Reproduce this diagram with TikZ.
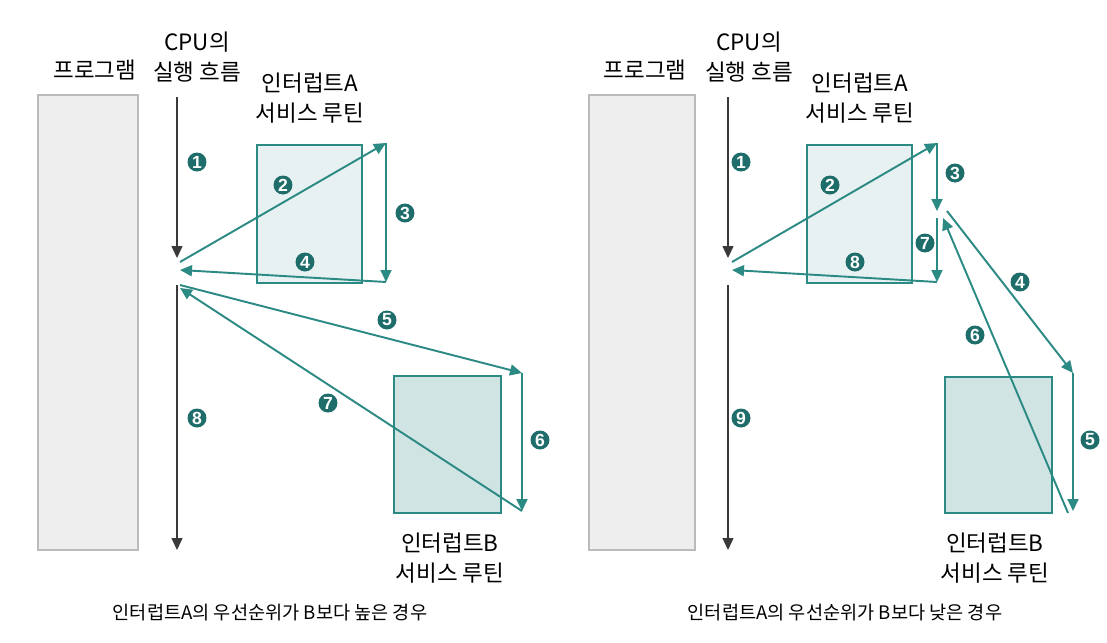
\documentclass[tikz,border=0pt]{standalone}
\usepackage{fontspec}
\setmainfont{Noto Sans CJK KR}
\newfontfamily\numfont{Liberation Sans}
\usetikzlibrary{arrows.meta}
\definecolor{tealline}{HTML}{2C8A84}
\definecolor{numteal}{HTML}{1E6D6B}
\definecolor{flowgray}{HTML}{3A3A3A}
\definecolor{progfill}{HTML}{EEEEEE}
\definecolor{progline}{HTML}{BBBBBB}
\definecolor{afill}{HTML}{E7F1F1}
\definecolor{bfill}{HTML}{D0E4E3}

\begin{document}
\begin{tikzpicture}[x=0.02cm,y=-0.02cm,
  prog/.style={draw=progline,fill=progfill,line width=0.8pt},
  isra/.style={draw=tealline,fill=afill,line width=1pt},
  isrb/.style={draw=tealline,fill=bfill,line width=1pt},
  flow/.style={draw=flowgray,line width=0.8pt,-{Triangle[length=2.4mm,width=2.2mm]}},
  jump/.style={draw=tealline,line width=1.1pt,-{Triangle[length=2.4mm,width=2.2mm]}},
  num/.style={circle,fill=numteal,text=white,minimum size=3.8mm,inner sep=0pt,font=\numfont\bfseries\fontsize{10}{10}\selectfont},
  lbl/.style={align=center,font=\fontsize{12.8}{17}\selectfont},
  capt/.style={font=\fontsize{10.6}{13}\selectfont}]
 \useasboundingbox (0,0) rectangle (1107,643);

 % ---- left: A higher than B ----
 \draw[prog] (38,95) rectangle (138,550);
 \draw[isra] (257,145) rectangle (362,283);
 \draw[isrb] (394,376) rectangle (501,513);
 \node[lbl] (Lprog) at (95,70) {프로그램};
 \node[lbl] (Lcpu) at (197,57) {CPU의\\실행 흐름};
 \node[lbl] (LisrA) at (310,98) {인터럽트A\\서비스 루틴};
 \node[lbl] (LisrB) at (450,558) {인터럽트B\\서비스 루틴};
 \node[capt] (Lcap) at (270,613) {인터럽트A의 우선순위가 B보다 높은 경우};

 \coordinate (Lc1s) at (177,97);  \coordinate (Lc1e) at (177,258);
 \coordinate (Lc2s) at (177,285); \coordinate (Lc2e) at (177,550);
 \coordinate (Lout) at (180,262); \coordinate (Lin) at (180,270);
 \coordinate (Lout2) at (180,285); \coordinate (Lin2) at (180,288);
 \coordinate (LAtop) at (386,143); \coordinate (LAbot) at (386,282);
 \coordinate (LBtop) at (522,373); \coordinate (LBbot) at (522,511);

 \draw[flow] (Lc1s) -- (Lc1e);
 \draw[flow] (Lc2s) -- (Lc2e);
 \draw[jump] (Lout) -- (LAtop);
 \draw[jump] (LAtop) -- (LAbot);
 \draw[jump] (LAbot) -- (Lin);
 \draw[jump] (Lout2) -- (LBtop);
 \draw[jump] (LBtop) -- (LBbot);
 \draw[jump] (LBbot) -- (Lin2);

 \node[num] (L1) at (197,162) {1};
 \node[num] (L2) at (283,185) {2};
 \node[num] (L3) at (405,213) {3};
 \node[num] (L4) at (305,262) {4};
 \node[num] (L5) at (387,320) {5};
 \node[num] (L6) at (540,440) {6};
 \node[num] (L7) at (328,403) {7};
 \node[num] (L8) at (197,418) {8};

 % ---- right: A lower than B ----
 \draw[prog] (589,95) rectangle (695,550);
 \draw[isra] (807,145) rectangle (912,283);
 \draw[isrb] (945,377) rectangle (1052,513);
 \node[lbl] (Rprog) at (645,70) {프로그램};
 \node[lbl] (Rcpu) at (749,57) {CPU의\\실행 흐름};
 \node[lbl] (RisrA) at (860,98) {인터럽트A\\서비스 루틴};
 \node[lbl] (RisrB) at (995,558) {인터럽트B\\서비스 루틴};
 \node[capt] (Rcap) at (845,613) {인터럽트A의 우선순위가 B보다 낮은 경우};

 \coordinate (Rc1s) at (728,97);  \coordinate (Rc1e) at (728,258);
 \coordinate (Rc2s) at (728,285); \coordinate (Rc2e) at (728,550);
 \coordinate (Rout) at (732,262); \coordinate (Rin) at (732,270);
 \coordinate (RAtop) at (937,143); \coordinate (RAmid) at (937,211);
 \coordinate (RAmid2) at (937,218); \coordinate (RAbot) at (937,282);
 \coordinate (Rpre) at (947,211); \coordinate (Rback) at (943,218);
 \coordinate (RBtop) at (1073,373); \coordinate (RBbot) at (1073,511);
 \coordinate (RBret) at (1068,513);

 \draw[flow] (Rc1s) -- (Rc1e);
 \draw[flow] (Rc2s) -- (Rc2e);
 \draw[jump] (Rout) -- (RAtop);
 \draw[jump] (RAtop) -- (RAmid);
 \draw[jump] (Rpre) -- (RBtop);
 \draw[jump] (RBtop) -- (RBbot);
 \draw[jump] (RBret) -- (Rback);
 \draw[jump] (RAmid2) -- (RAbot);
 \draw[jump] (RAbot) -- (Rin);

 \node[num] (R1) at (741,162) {1};
 \node[num] (R2) at (830,185) {2};
 \node[num] (R3) at (955,173) {3};
 \node[num] (R4) at (1020,282) {4};
 \node[num] (R5) at (1090,440) {5};
 \node[num] (R6) at (975,335) {6};
 \node[num] (R7) at (925,243) {7};
 \node[num] (R8) at (855,262) {8};
 \node[num] (R9) at (741,418) {9};
\end{tikzpicture}
\end{document}
